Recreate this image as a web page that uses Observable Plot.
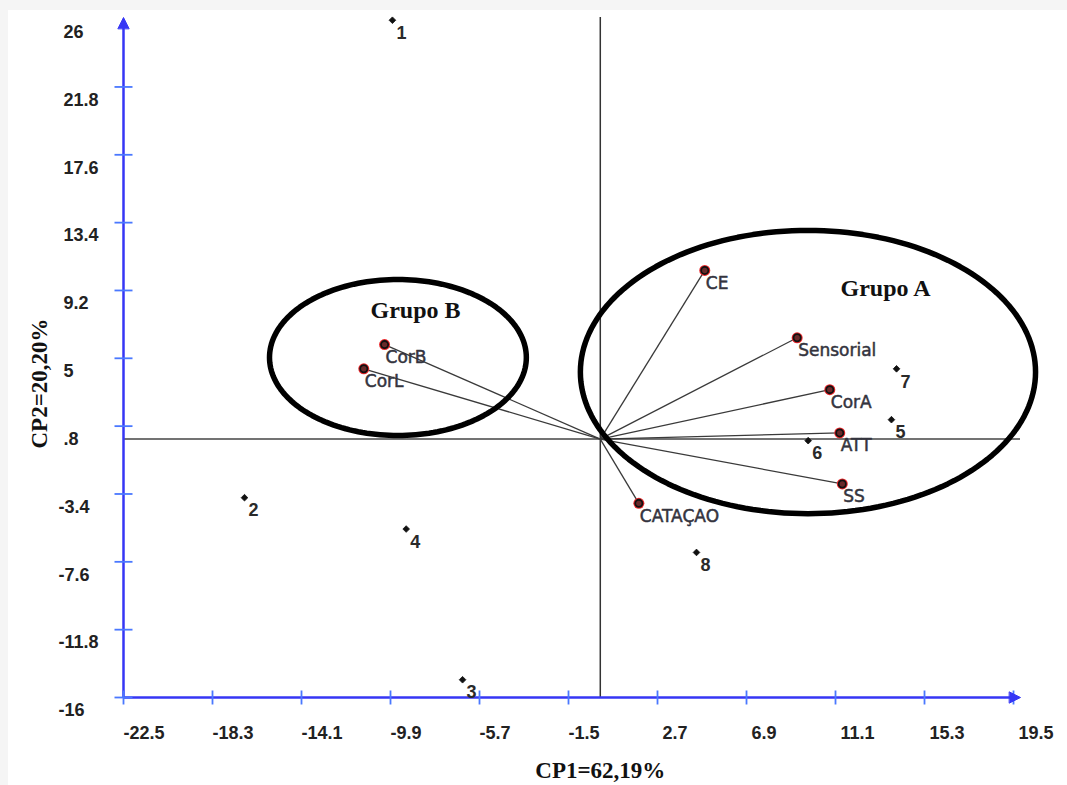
<!DOCTYPE html>
<html>
<head>
<meta charset="utf-8">
<script src="https://cdn.jsdelivr.net/npm/d3@7"></script>
<script src="https://cdn.jsdelivr.net/npm/@observablehq/plot@0.6"></script>
<style>
  html, body { margin: 0; padding: 0; background: #ffffff; }
  #wrap { position: relative; width: 1067px; height: 785px; }
  #stripTop { position: absolute; left: 0; top: 0; width: 1067px; height: 10px; background: #f5f5f5; }
  #stripLeft { position: absolute; left: 0; top: 0; width: 8px; height: 785px; background: #f5f5f5; }
  #chart { position: absolute; left: 0; top: 0; }
  #chart svg { display: block; background: transparent; }
</style>
</head>
<body>
<div id="wrap"><div id="stripTop"></div><div id="stripLeft"></div><div id="chart"></div></div>
<script>
// ---- Axis ticks ----
const xTicks = [-22.5, -18.3, -14.1, -9.9, -5.7, -1.5, 2.7, 6.9, 11.1, 15.3, 19.5];
const xTickLabels = ["-22.5", "-18.3", "-14.1", "-9.9", "-5.7", "-1.5", "2.7", "6.9", "11.1", "15.3", "19.5"];
const yTicks = [26, 21.8, 17.6, 13.4, 9.2, 5, 0.8, -3.4, -7.6, -11.8, -16];
const yTickLabels = ["26", "21.8", "17.6", "13.4", "9.2", "5", ".8", "-3.4", "-7.6", "-11.8", "-16"];
const xAxisTitle = "CP1=62,19%";
const yAxisTitle = "CP2=20,20%";

// ---- Observations (scores) ----
const obsLabels = ["1", "2", "3", "4", "5", "6", "7", "8"];
const obsCP1 = [-9.81, -16.79, -6.50, -9.16, 13.74, 9.81, 13.98, 4.54];
const obsCP2 = [25.93, -3.63, -14.90, -5.57, 1.20, -0.10, 4.35, -7.02];

// ---- Variables (loadings) ----
const varLabels = ["CE", "Sensorial", "CorA", "ATT", "SS", "CATAÇAO", "CorB", "CorL"];
const varCP1 = [4.93, 9.29, 10.83, 11.30, 11.42, 1.82, -10.18, -11.16];
const varCP2 = [10.44, 6.27, 3.06, 0.38, -2.78, -3.98, 5.85, 4.35];

// ---- Groups (ellipses) ----
const groupNames = ["Grupo A", "Grupo B"];
const groupCP1 = [9.80, -9.55];
const groupCP2 = [4.15, 5.05];
const groupRadiusCP1 = [10.74, 6.06];
const groupRadiusCP2 = [8.77, 4.83];
const groupLabelCP1 = [13.46, -8.72];
const groupLabelCP2 = [9.32, 7.96];

const xMin = -22.5, xMax = 19.83, yMin = -16, yMax = 26.1;

const obs = obsLabels.map((l, i) => ({label: l, x: obsCP1[i], y: obsCP2[i]}));
const vars = varLabels.map((l, i) => ({label: l, x: varCP1[i], y: varCP2[i]}));
const groups = groupNames.map((g, i) => ({name: g, x: groupLabelCP1[i], y: groupLabelCP2[i]}));
const ellipsePts = groupNames.flatMap((g, i) =>
  d3.range(0, 360, 2).map(a => ({
    g,
    x: groupCP1[i] + groupRadiusCP1[i] * Math.cos(a * Math.PI / 180),
    y: groupCP2[i] + groupRadiusCP2[i] * Math.sin(a * Math.PI / 180)
  }))
);

const blue = "#3636f5";
const tickBlue = "#4a78ff";
const tri = {draw(ctx, l, r) { ctx.moveTo(-r, 0); ctx.lineTo(0, -l); ctx.lineTo(r, 0); ctx.closePath(); }};
const vTick = {draw(ctx) { ctx.moveTo(0, -7); ctx.lineTo(0, 7); }};
const hTick = {draw(ctx) { ctx.moveTo(-9, 0); ctx.lineTo(9, 0); }};

const sansBold = "'Liberation Sans', Arial, sans-serif";
const serif = "'Liberation Serif', 'Times New Roman', serif";
const labelFont = "'DejaVu Sans', Verdana, sans-serif";

const chart = Plot.plot({
  width: 1067,
  height: 785,
  marginLeft: 123,
  marginRight: 47,
  marginTop: 17,
  marginBottom: 88,
  style: {background: "transparent", overflow: "visible"},
  x: {domain: [xMin, xMax], axis: null},
  y: {domain: [yMin, yMax], axis: null},
  marks: [
    // black cross through origin
    Plot.ruleX([0], {y1: yMin, y2: yMax, stroke: "#333", strokeWidth: 1.5}),
    Plot.ruleY([0], {x1: xMin, x2: xMax, stroke: "#444", strokeWidth: 1.5}),
    // loading vectors
    Plot.link(vars, {x1: () => 0, y1: () => 0, x2: "x", y2: "y", stroke: "#3a3a3a", strokeWidth: 1.3}),
    // group ellipses
    Plot.line(ellipsePts, {x: "x", y: "y", z: "g", stroke: "#000", strokeWidth: 5.5, curve: "linear-closed"}),
    // blue axes
    Plot.ruleY([yMin], {x1: xMin, x2: xMax - 0.3, stroke: blue, strokeWidth: 2.5}),
    Plot.ruleX([xMin], {y1: yMin, y2: yMax - 0.3, stroke: blue, strokeWidth: 2.5}),
    Plot.dot(xTicks, {x: d => d, y: yMin, symbol: vTick, stroke: tickBlue, fill: "none", strokeWidth: 1.8}),
    Plot.dot(yTicks.filter(d => d < 25), {x: xMin, y: d => d, symbol: hTick, stroke: tickBlue, fill: "none", strokeWidth: 1.8}),
    Plot.vector([0], {x: xMax, y: yMin, rotate: 90, length: 11, r: 5.5, anchor: "end", shape: tri, fill: blue, stroke: blue, strokeWidth: 1}),
    Plot.vector([0], {x: xMin, y: yMax, rotate: 0, length: 11, r: 5.5, anchor: "end", shape: tri, fill: blue, stroke: blue, strokeWidth: 1}),
    // tick labels
    Plot.text(xTicks, {x: d => d, y: yMin, text: (d, i) => xTickLabels[i], filter: d => d < 0, textAnchor: "start", dx: 0, dy: 36, fontSize: 18, fontWeight: "bold", fontFamily: sansBold, fill: "#222"}),
    Plot.text(xTicks, {x: d => d, y: yMin, text: (d, i) => xTickLabels[i], filter: d => d >= 0, textAnchor: "start", dx: 5, dy: 36, fontSize: 18, fontWeight: "bold", fontFamily: sansBold, fill: "#222"}),
    Plot.text(yTicks, {x: xMin, y: d => d, text: (d, i) => yTickLabels[i], filter: d => d < 0, textAnchor: "start", dx: -65, dy: 13, fontSize: 18, fontWeight: "bold", fontFamily: sansBold, fill: "#222"}),
    Plot.text(yTicks, {x: xMin, y: d => d, text: (d, i) => yTickLabels[i], filter: d => d >= 0, textAnchor: "start", dx: -60, dy: 13, fontSize: 18, fontWeight: "bold", fontFamily: sansBold, fill: "#222"}),
    // axis titles
    Plot.text([xAxisTitle], {x: () => 0, y: yMin, text: d => d, dy: 73, fontSize: 23, fontWeight: "bold", fontFamily: serif, fill: "#111"}),
    Plot.text([yAxisTitle], {x: xMin, y: () => 3.44, text: d => d, dx: -84, rotate: -90, fontSize: 23, fontWeight: "bold", fontFamily: serif, fill: "#111"}),
    // observations
    Plot.dot(obs, {x: "x", y: "y", symbol: "diamond2", r: 3, fill: "#111", stroke: "#111", strokeWidth: 0.8}),
    Plot.text(obs, {x: "x", y: "y", text: "label", textAnchor: "start", dx: 4, dy: 13, fontSize: 18, fontWeight: "bold", fontFamily: sansBold, fill: "#2a2a2a"}),
    // variable markers
    Plot.dot(vars, {x: "x", y: "y", r: 5.5, fill: "#e8262a", stroke: "none"}),
    Plot.dot(vars, {x: "x", y: "y", r: 3.6, fill: "#6a2a2a", stroke: "#111", strokeWidth: 1.8}),
    Plot.text(vars, {x: "x", y: "y", text: "label", textAnchor: "start", dx: 1, dy: 13, fontSize: 17, fontFamily: labelFont, fill: "#34343e", stroke: "#34343e", strokeWidth: 0.5}),
    // group labels
    Plot.text(groups, {x: "x", y: "y", text: "name", fontSize: 24, fontWeight: "bold", fontFamily: serif, fill: "#111"})
  ]
});
document.getElementById("chart").appendChild(chart);
</script>
</body>
</html>
